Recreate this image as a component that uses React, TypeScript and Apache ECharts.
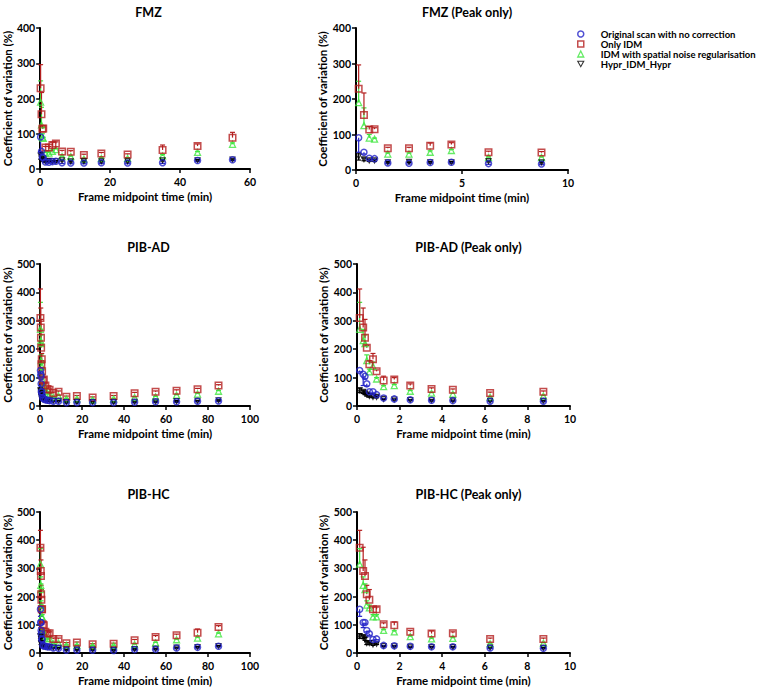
import React, { useEffect, useRef } from "react";
import * as echarts from "echarts";

// ---------- data ----------
const SERIES_NAMES = [
  "Original scan with no correction",
  "Only IDM",
  "IDM with spatial noise regularisation",
  "Hypr_IDM_Hypr",
];

const FMZ_TIME = [0.125, 0.375, 0.625, 0.875, 1.5, 2.5, 3.5, 4.5, 6.25, 8.75, 12.5, 17.5, 25, 35, 45, 55];
const FMZ_ORIG = [91, 50, 33, 32, 20, 19, 21, 22, 18, 17, 17, 18, 17, 18, 24, 26];
const FMZ_ORIG_ERR = [41, 5, 3, 2, 2, 2, 2, 2, 2, 2, 2, 2, 2, 2, 2, 2];
const FMZ_IDM = [229, 155, 114, 115, 61, 61, 68, 72, 50, 49, 40, 44, 41, 54, 65, 89];
const FMZ_IDM_ERR = [67, 62, 8, 4, 3, 3, 8, 5, 3, 3, 2, 3, 2, 14, 6, 15];
const FMZ_SN = [190, 125, 90, 87, 45, 45, 50, 55, 35, 35, 28, 30, 30, 37, 47, 70];
const FMZ_SN_ERR = [60, 50, 10, 3, 3, 3, 4, 3, 2, 2, 2, 2, 2, 4, 3, 4];
const FMZ_HYPR = [38, 30, 27, 27, 22, 23, 22, 22, 25, 22, 22, 22, 22, 25, 25, 27];
const FMZ_HYPR_ERR = [10, 4, 3, 3, 2, 2, 2, 2, 2, 2, 2, 2, 2, 2, 2, 2];

const PIB_TIME = [0.125, 0.29, 0.375, 0.46, 0.58, 0.75, 0.92, 1.25, 1.75, 2.5, 3.5, 4.5, 6.25, 8.75, 12.5, 17.5, 25, 35, 45, 55, 65, 75, 85];

const AD_ORIG = [125, 112, 105, 78, 50, 50, 40, 28, 25, 22, 20, 19, 17, 17, 12, 12, 12, 12, 13, 15, 15, 17, 18];
const AD_ORIG_ERR = [5, 40, 10, 8, 5, 5, 3, 2, 2, 2, 2, 2, 2, 2, 2, 2, 2, 2, 2, 2, 2, 2, 2];
const AD_IDM = [310, 276, 240, 205, 147, 165, 122, 90, 93, 72, 60, 57, 46, 50, 33, 35, 30, 35, 45, 50, 54, 59, 72];
const AD_IDM_ERR = [102, 69, 65, 8, 13, 20, 5, 15, 7, 6, 4, 3, 3, 3, 2, 2, 2, 2, 3, 3, 3, 3, 3];
const AD_SN = [270, 230, 220, 160, 120, 140, 95, 68, 72, 52, 45, 42, 31, 35, 25, 25, 22, 25, 30, 32, 38, 42, 52];
const AD_SN_ERR = [95, 40, 30, 20, 10, 15, 5, 4, 4, 3, 3, 3, 2, 2, 2, 2, 2, 2, 2, 2, 2, 3, 3];
const AD_HYPR = [55, 50, 45, 40, 35, 32, 32, 25, 23, 21, 20, 19, 18, 18, 14, 14, 14, 14, 15, 16, 17, 18, 20];
const AD_HYPR_ERR = [8, 6, 5, 5, 4, 3, 3, 2, 2, 2, 2, 2, 2, 2, 2, 2, 2, 2, 2, 2, 2, 2, 2];

const HC_ORIG = [155, 108, 108, 80, 68, 48, 50, 27, 26, 24, 22, 22, 18, 17, 10, 10, 10, 9, 12, 13, 18, 20, 24];
const HC_ORIG_ERR = [25, 18, 5, 5, 5, 3, 3, 2, 2, 2, 2, 2, 2, 2, 2, 2, 2, 2, 2, 2, 2, 2, 2];
const HC_IDM = [373, 291, 273, 208, 189, 155, 155, 102, 98, 75, 69, 70, 50, 50, 35, 37, 31, 33, 45, 57, 63, 72, 92];
const HC_IDM_ERR = [62, 84, 57, 32, 36, 8, 8, 5, 12, 5, 9, 5, 3, 3, 2, 2, 2, 2, 3, 5, 4, 13, 5];
const HC_SN = [315, 240, 225, 170, 160, 128, 128, 80, 75, 58, 50, 52, 33, 35, 27, 27, 25, 26, 30, 36, 47, 53, 68];
const HC_SN_ERR = [55, 30, 20, 15, 10, 8, 8, 4, 4, 3, 3, 3, 2, 2, 2, 2, 2, 2, 2, 2, 2, 3, 3];
const HC_HYPR = [60, 57, 50, 35, 35, 30, 33, 25, 24, 22, 21, 21, 19, 18, 12, 12, 12, 11, 14, 15, 19, 21, 25];
const HC_HYPR_ERR = [8, 6, 5, 5, 4, 3, 3, 2, 2, 2, 2, 2, 2, 2, 2, 2, 2, 2, 2, 2, 2, 2, 2];

const PANEL_TITLES = ["FMZ", "FMZ (Peak only)", "PIB-AD", "PIB-AD (Peak only)", "PIB-HC", "PIB-HC (Peak only)"];
const X_NAME = "Frame midpoint time (min)";
const Y_NAME = "Coefficient of variation (%)";

// ---------- styling ----------
const FONT = "Lato";
const COLORS = ["#2424c8", "#b41f1f", "#3ee63e", "#000000"];
const SYMBOLS = ["circle", "rect", "triangle", "triangle"];
const ROTATE = [0, 0, 0, 180];
const SIZES = [6, 6.5, 6, 5];
const BORDERS = [1.5, 1.5, 1.3, 1.1];
const ERR_DIR = ["down", "up", "up", "both"];
const DRAW_ORDER = [2, 1, 3, 0];
const LEGEND_ICONS = ["circle", "rect", "triangle", "path://M0,0L10,0L5,9Z"];

type PanelDef = {
  title: string;
  time: number[];
  values: number[][];
  errs: number[][];
  maxT: number;
  xMax: number;
  xInterval: number;
  yMax: number;
  left: number;
  top: number;
  width: number;
  height: number;
  titleTop: number;
};

const FMZ_VALUES = [FMZ_ORIG, FMZ_IDM, FMZ_SN, FMZ_HYPR];
const FMZ_ERRS = [FMZ_ORIG_ERR, FMZ_IDM_ERR, FMZ_SN_ERR, FMZ_HYPR_ERR];
const AD_VALUES = [AD_ORIG, AD_IDM, AD_SN, AD_HYPR];
const AD_ERRS = [AD_ORIG_ERR, AD_IDM_ERR, AD_SN_ERR, AD_HYPR_ERR];
const HC_VALUES = [HC_ORIG, HC_IDM, HC_SN, HC_HYPR];
const HC_ERRS = [HC_ORIG_ERR, HC_IDM_ERR, HC_SN_ERR, HC_HYPR_ERR];

const PANELS: PanelDef[] = [
  { title: PANEL_TITLES[0], time: FMZ_TIME, values: FMZ_VALUES, errs: FMZ_ERRS, maxT: 60, xMax: 60, xInterval: 20, yMax: 400, left: 37, top: 28, width: 213, height: 141, titleTop: 1 },
  { title: PANEL_TITLES[1], time: FMZ_TIME, values: FMZ_VALUES, errs: FMZ_ERRS, maxT: 10, xMax: 10, xInterval: 5, yMax: 400, left: 356, top: 28, width: 212, height: 142, titleTop: 1 },
  { title: PANEL_TITLES[2], time: PIB_TIME, values: AD_VALUES, errs: AD_ERRS, maxT: 100, xMax: 100, xInterval: 20, yMax: 500, left: 37, top: 264, width: 213, height: 142, titleTop: 236 },
  { title: PANEL_TITLES[3], time: PIB_TIME, values: AD_VALUES, errs: AD_ERRS, maxT: 10, xMax: 10, xInterval: 2, yMax: 500, left: 357, top: 264, width: 213, height: 142, titleTop: 236 },
  { title: PANEL_TITLES[4], time: PIB_TIME, values: HC_VALUES, errs: HC_ERRS, maxT: 100, xMax: 100, xInterval: 20, yMax: 500, left: 37, top: 512, width: 213, height: 141, titleTop: 483 },
  { title: PANEL_TITLES[5], time: PIB_TIME, values: HC_VALUES, errs: HC_ERRS, maxT: 10, xMax: 10, xInterval: 2, yMax: 500, left: 357, top: 512, width: 213, height: 141, titleTop: 483 },
];

function buildOption() {
  const grids: any[] = [];
  const xAxes: any[] = [];
  const yAxes: any[] = [];
  const titles: any[] = [];
  const series: any[] = [];

  PANELS.forEach((p, i) => {
    grids.push({ left: p.left, top: p.top, width: p.width, height: p.height, containLabel: false });
    titles.push({
      text: p.title,
      left: p.left + p.width / 2,
      top: p.titleTop,
      textAlign: "center",
      textStyle: { fontFamily: FONT, fontWeight: "bold", fontSize: 12.5, color: "#000" },
    });
    const axisCommon = {
      axisLine: { show: true, onZero: false, lineStyle: { color: "#000", width: 2 } },
      axisTick: { show: true, length: 4, lineStyle: { color: "#000", width: 1.5 } },
      splitLine: { show: false },
      nameLocation: "middle",
      nameTextStyle: { fontFamily: FONT, fontWeight: "bold", fontSize: 11.5, color: "#000" },
    };
    xAxes.push({
      ...axisCommon,
      type: "value",
      gridIndex: i,
      min: 0,
      max: p.xMax,
      interval: p.xInterval,
      name: X_NAME,
      nameGap: 21,
      axisLabel: { fontFamily: FONT, fontWeight: "bold", fontSize: 10.5, color: "#000", margin: 7 },
    });
    yAxes.push({
      ...axisCommon,
      type: "value",
      gridIndex: i,
      min: 0,
      max: p.yMax,
      interval: 100,
      name: Y_NAME,
      nameGap: 23,
      axisLabel: { fontFamily: FONT, fontWeight: "bold", fontSize: 10.5, color: "#000", margin: 5 },
    });

    const idx = p.time.map((t, j) => j).filter((j) => p.time[j] <= p.maxT);

    // error bars first
    DRAW_ORDER.forEach((k) => {
      const dir = ERR_DIR[k];
      const color = COLORS[k];
      const data = idx.map((j) => {
        const v = p.values[k][j];
        const e = p.errs[k][j];
        const lo = dir === "up" ? v : v - e;
        const hi = dir === "down" ? v : v + e;
        return [p.time[j], lo, hi, dir === "up" ? 0 : 1, dir === "down" ? 0 : 1];
      });
      series.push({
        type: "custom",
        name: SERIES_NAMES[k] + " error",
        xAxisIndex: i,
        yAxisIndex: i,
        data,
        encode: { x: 0, y: [1, 2] },
        silent: true,
        renderItem: (params: any, api: any) => {
          const x = api.value(0);
          const a = api.coord([x, api.value(1)]);
          const b = api.coord([x, api.value(2)]);
          const hw = 2.5;
          const style = { stroke: color, lineWidth: 1.2, fill: "none" };
          const children: any[] = [
            { type: "line", shape: { x1: a[0], y1: a[1], x2: b[0], y2: b[1] }, style },
          ];
          if (api.value(3)) children.push({ type: "line", shape: { x1: a[0] - hw, y1: a[1], x2: a[0] + hw, y2: a[1] }, style });
          if (api.value(4)) children.push({ type: "line", shape: { x1: b[0] - hw, y1: b[1], x2: b[0] + hw, y2: b[1] }, style });
          return { type: "group", children };
        },
      });
    });

    DRAW_ORDER.forEach((k) => {
      series.push({
        type: "scatter",
        name: SERIES_NAMES[k],
        xAxisIndex: i,
        yAxisIndex: i,
        symbol: SYMBOLS[k],
        symbolRotate: ROTATE[k],
        symbolSize: SIZES[k],
        itemStyle: { color: "rgba(255,255,255,0)", borderColor: COLORS[k], borderWidth: BORDERS[k] },
        emphasis: { disabled: true },
        data: idx.map((j) => [p.time[j], p.values[k][j]]),
      });
    });
  });

  return {
    animation: false,
    backgroundColor: "#ffffff",
    title: titles,
    grid: grids,
    xAxis: xAxes,
    yAxis: yAxes,
    legend: {
      data: SERIES_NAMES.map((n, k) => ({
        name: n,
        icon: LEGEND_ICONS[k],
        itemStyle: { color: "rgba(255,255,255,0)", borderColor: COLORS[k], borderWidth: BORDERS[k] },
      })),
      orient: "vertical",
      left: 572,
      top: 24,
      itemWidth: 6,
      itemHeight: 6,
      itemGap: 0,
      symbolRotate: 0,
      selectedMode: false,
      textStyle: { fontFamily: FONT, fontWeight: "bold", fontSize: 9.5, color: "#000", padding: [0, 0, 0, 12] },
    },
    series,
  };
}

export default function App() {
  const ref = useRef<HTMLDivElement>(null);
  useEffect(() => {
    document.body.style.margin = "0";
    if (!ref.current) return;
    const chart = echarts.init(ref.current, undefined, { renderer: "svg" });
    chart.setOption(buildOption() as any);
    return () => chart.dispose();
  }, []);
  return <div ref={ref} style={{ width: 778, height: 688 }} />;
}
